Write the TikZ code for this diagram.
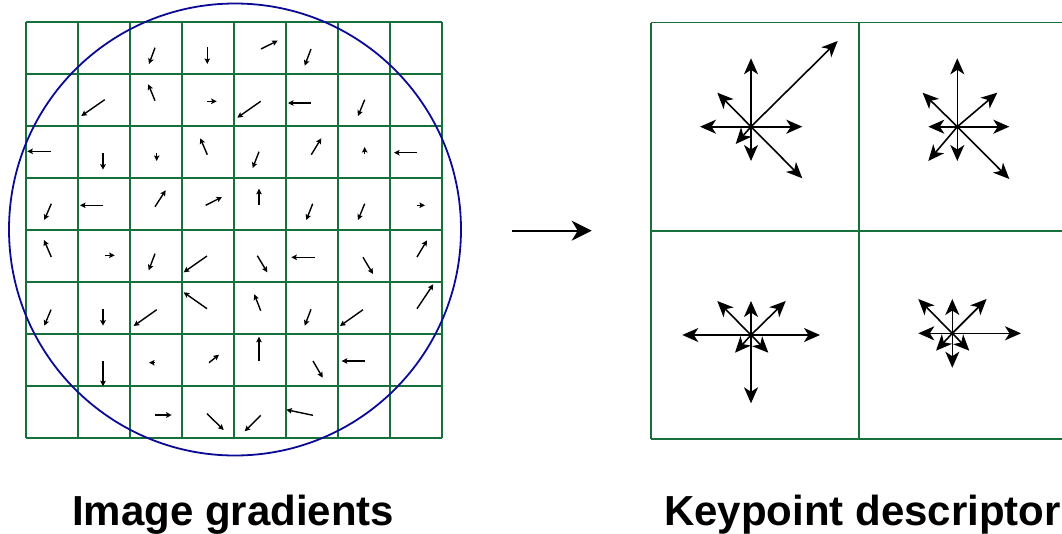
\documentclass[tikz,border=0pt]{standalone}
\usepackage{fontspec}
\setmainfont{Liberation Sans}
\usetikzlibrary{arrows.meta}
\definecolor{gridgreen}{RGB}{22,112,60}
\definecolor{circblue}{RGB}{10,10,150}
\tikzset{
  gridline/.style={draw=gridgreen, line width=1.9pt},
  circline/.style={draw=circblue, line width=1.8pt},
  grad/.style={draw=black, line width=1.4pt, -{Stealth[length=5.5pt,width=5.5pt,inset=1pt]}},
  bin/.style={draw=black, line width=1.6pt, -{Stealth[length=16pt,width=14pt,inset=4.5pt]}},
  flow/.style={draw=black, line width=1.6pt, -{Stealth[length=20pt,width=20pt,inset=6pt]}},
  caption/.style={font=\fontsize{42}{50}\selectfont\bfseries, anchor=base, inner sep=0pt}
}
\begin{document}
\begin{tikzpicture}[x=1pt,y=-1pt]
\clip (0,0) rectangle (1062,533);
\fill[white] (0,0) rectangle (1062,533);
% left 8x8 grid
\foreach \i in {0,...,8}{
  \draw[gridline] (26+52*\i,22) -- (26+52*\i,438);
  \draw[gridline] (26,22+52*\i) -- (442,22+52*\i);
}
% gradient arrows
\foreach \tx/\ty/\hx/\hy in {
155/47.7/149/64, 207.3/47.3/207.3/64, 104.7/99.7/81.3/116, 155/100.7/148.3/84.3,
207.3/101.3/216.7/101.3, 51/151.3/27.3/151.3, 103/153.3/103/169.7, 156.7/152.7/156.7/161,
207.3/154.7/200.3/138.3, 51.3/203.7/44.3/220, 103/205.3/80/205.3, 155/206.7/165.7/190.3,
205.7/205.3/222/197, 261/49/277.7/40.7, 311/49/304.7/65.7, 260.7/101.3/237.3/117.7,
310.7/103/288/103, 364.7/99.7/358/116, 259/151.7/252.7/168, 311.3/154.7/321.3/138.3,
364.7/154.3/364.7/147, 417/152.7/394/152.7, 259/205/259/188.7, 312.7/203.7/306.3/220,
364.7/203.7/358/220, 417/205.3/425/205.3, 51.3/257/44/240, 104.7/255.3/114.7/255.3,
155/253.7/148.7/270.3, 207/256/183.7/272.3, 51/309.7/44.3/325.7, 103/309.3/103/325.7,
156.7/309.7/133.7/326, 207/308.7/183.7/292.3, 103/361/103/386.3, 155/362.7/149/362.7,
209/362.7/219/354.7, 155/415/171.7/415, 207/413.7/223.7/430, 257.3/255.7/267.3/272.3,
314.7/257.3/291.3/257.3, 363/257.3/373/274, 417/257/427/240.3, 260.7/310.7/254.3/294.3,
311/309.3/304.7/325.7, 363/309.7/340/326, 417/308.7/433.3/284.3, 259/361/259/336.7,
313/361/322.7/377.7, 364.7/361/341.7/361, 260.7/415.3/244.7/431.3, 313/415.3/286.3/409.7}{
  \draw[grad] (\tx,\ty) -- (\hx,\hy);
}
% circle window
\draw[circline] (235,229.5) circle[radius=226pt];
% flow arrow
\coordinate (fa) at (511.7,230.7);
\coordinate (fb) at (591.7,230.7);
\draw[flow] (fa) -- (fb);
% right 2x2 grid
\draw[gridline] (651,22.5) -- (651,438.7);
\draw[gridline] (859,22.5) -- (859,438.7);
\foreach \y in {22.5,230.7,438.7}{
  \draw[gridline] (651,\y) -- (1070,\y);
}
% orientation histograms
\coordinate (sa) at (751,126.7);
\coordinate (sb) at (957.3,126.7);
\coordinate (sc) at (751,335);
\coordinate (sd) at (952.3,333.3);
\foreach \dx/\dy in {0/-68.4, 86.7/-85.7, 51.3/0, 51.3/51.6, 0/34.3, -15.3/17.3, -51/0, -33.7/-34}{
  \draw[bin] (sa) -- ++(\dx,\dy);
}
\foreach \dx/\dy in {0/-68.4, 40/-34, 52/0, 52/52.3, 0/34.3, -29/34.3, -29/0, -34.7/-34}{
  \draw[bin] (sb) -- ++(\dx,\dy);
}
\foreach \dx/\dy in {0/-34, 34.7/-34, 69/0, 17.3/17.7, 0/68.3, -16/17.7, -68.7/0, -33.7/-34}{
  \draw[bin] (sc) -- ++(\dx,\dy);
}
\foreach \dx/\dy in {0/-34.3, 34.3/-34.3, 68.7/0, 17/17.4, 0/34.4, -16.3/17.4, -34/0, -34/-34.3}{
  \draw[bin] (sd) -- ++(\dx,\dy);
}
% captions
\node[caption] (capl) at (233.3,525) {Image gradients};
\node[caption] (capr) at (862.5,525) {Keypoint descriptor};
\end{tikzpicture}
\end{document}
